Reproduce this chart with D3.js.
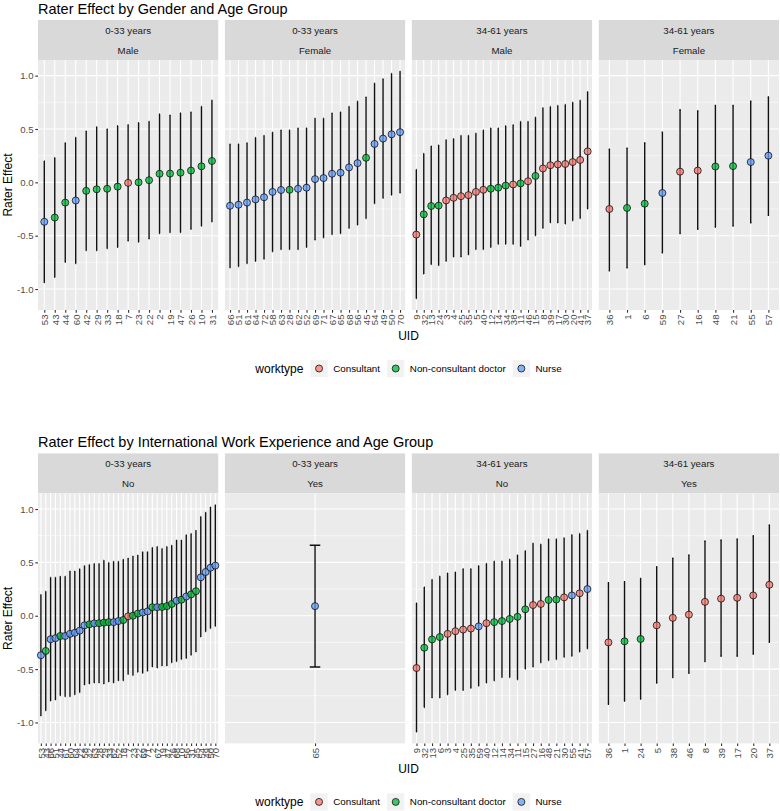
<!DOCTYPE html>
<html>
<head>
<meta charset="utf-8">
<script src="https://cdn.jsdelivr.net/npm/d3@7"></script>
<style>
  body { margin: 0; background: #fff; }
  svg { display: block; font-family: "Liberation Sans", Arial, sans-serif; }
</style>
</head>
<body>
<script>
let W = 780;
let H = 811;

let ageGroups = ["0-33 years", "34-61 years"];
let genders = ["Male", "Female"];
let intlLevels = ["No", "Yes"];
let worktypes = ["Consultant", "Non-consultant doctor", "Nurse"];
let typeColors = ["#F8766D", "#00BA38", "#619CFF"];
let yTicks = [-1, -0.5, 0, 0.5, 1];
let yMinor = [-0.75, -0.25, 0.25, 0.75];

// C = Consultant, D = Non-consultant doctor, N = Nurse
// 0-33 years, male
let youngMaleUid = [53, 43, 44, 60, 42, 29, 33, 18, 7, 23, 22, 2, 19, 47, 26, 10, 31];
let youngMaleType = ["N", "D", "D", "N", "D", "D", "D", "D", "C", "D", "D", "D", "D", "D", "D", "D", "D"];
let youngMaleEst = [-0.37, -0.33, -0.19, -0.17, -0.08, -0.065, -0.06, -0.04, -0.005, 0.0, 0.02, 0.08, 0.082, 0.09, 0.11, 0.15, 0.20];
let youngMaleLo = [-0.94, -0.89, -0.75, -0.76, -0.64, -0.64, -0.62, -0.61, -0.55, -0.56, -0.53, -0.48, -0.47, -0.47, -0.44, -0.41, -0.37];
let youngMaleHi = [0.20, 0.23, 0.37, 0.42, 0.48, 0.52, 0.50, 0.53, 0.54, 0.56, 0.57, 0.64, 0.63, 0.65, 0.66, 0.71, 0.77];

// 0-33 years, female
let youngFemaleUid = [66, 51, 61, 64, 72, 58, 63, 28, 62, 52, 69, 71, 67, 65, 68, 56, 45, 54, 49, 50, 70];
let youngFemaleType = ["N", "N", "N", "N", "N", "N", "N", "D", "N", "N", "N", "N", "N", "N", "N", "N", "D", "N", "N", "N", "N"];
let youngFemaleEst = [-0.22, -0.21, -0.19, -0.16, -0.14, -0.09, -0.072, -0.07, -0.06, -0.05, 0.03, 0.04, 0.08, 0.09, 0.14, 0.18, 0.23, 0.36, 0.41, 0.45, 0.47];
let youngFemaleLo = [-0.80, -0.79, -0.76, -0.74, -0.72, -0.65, -0.63, -0.63, -0.63, -0.61, -0.54, -0.52, -0.49, -0.48, -0.43, -0.40, -0.34, -0.20, -0.15, -0.12, -0.10];
let youngFemaleHi = [0.36, 0.36, 0.37, 0.42, 0.44, 0.47, 0.49, 0.49, 0.51, 0.51, 0.60, 0.60, 0.65, 0.66, 0.71, 0.76, 0.80, 0.93, 0.97, 1.02, 1.04];

// 34-61 years, male
let oldMaleUid = [9, 32, 13, 24, 3, 4, 25, 35, 5, 40, 12, 14, 34, 38, 11, 46, 15, 8, 39, 17, 30, 20, 41, 37];
let oldMaleType = ["C", "D", "D", "D", "C", "C", "C", "C", "C", "C", "D", "D", "D", "C", "D", "C", "D", "C", "C", "C", "C", "C", "C", "C"];
let oldMaleEst = [-0.49, -0.30, -0.222, -0.218, -0.17, -0.145, -0.13, -0.12, -0.09, -0.07, -0.06, -0.05, -0.03, -0.02, -0.01, 0.01, 0.06, 0.13, 0.16, 0.168, 0.172, 0.19, 0.21, 0.29];
let oldMaleLo = [-1.09, -0.86, -0.77, -0.78, -0.74, -0.70, -0.70, -0.68, -0.63, -0.63, -0.61, -0.58, -0.58, -0.58, -0.60, -0.54, -0.50, -0.43, -0.38, -0.38, -0.39, -0.36, -0.34, -0.25];
let oldMaleHi = [0.12, 0.27, 0.34, 0.35, 0.40, 0.41, 0.44, 0.44, 0.46, 0.49, 0.51, 0.51, 0.53, 0.54, 0.57, 0.57, 0.61, 0.70, 0.71, 0.72, 0.73, 0.75, 0.77, 0.85];

// 34-61 years, female
let oldFemaleUid = [36, 1, 6, 59, 27, 16, 48, 21, 55, 57];
let oldFemaleType = ["C", "D", "D", "N", "C", "C", "D", "D", "N", "N"];
let oldFemaleEst = [-0.25, -0.24, -0.20, -0.10, 0.10, 0.11, 0.148, 0.152, 0.19, 0.25];
let oldFemaleLo = [-0.83, -0.80, -0.77, -0.66, -0.48, -0.44, -0.42, -0.41, -0.38, -0.31];
let oldFemaleHi = [0.31, 0.32, 0.37, 0.47, 0.68, 0.67, 0.72, 0.72, 0.76, 0.80];

// raters with international work experience
let intlYoung = [65];
let intlOld = [36, 1, 24, 5, 38, 46, 8, 39, 17, 20, 37];

let rows = [];
let addBlock = (a, g, ids, types, est, lo, hi, intl) => {
  ids.forEach((id, i) => {
    rows.push({
      uid: id, age: a, gender: g,
      intl: intl.includes(id) ? "Yes" : "No",
      type: types[i], est: est[i], lo: lo[i], hi: hi[i]
    });
  });
};
addBlock(ageGroups[0], genders[0], youngMaleUid, youngMaleType, youngMaleEst, youngMaleLo, youngMaleHi, intlYoung);
addBlock(ageGroups[0], genders[1], youngFemaleUid, youngFemaleType, youngFemaleEst, youngFemaleLo, youngFemaleHi, intlYoung);
addBlock(ageGroups[1], genders[0], oldMaleUid, oldMaleType, oldMaleEst, oldMaleLo, oldMaleHi, intlOld);
addBlock(ageGroups[1], genders[1], oldFemaleUid, oldFemaleType, oldFemaleEst, oldFemaleLo, oldFemaleHi, intlOld);

let colorOf = t => typeColors["CDN".indexOf(t)];

let svg = d3.select("body")
  .append("svg")
  .attr("width", W)
  .attr("height", H)
  .attr("viewBox", "0 0 " + W + " " + H);

let pad = { lef: 38, rig: 1 };
let gap = 6.7;
let panelW = (W - pad.lef - pad.rig - 3 * gap) / 4;
let stripH = 20;
let panelH = 250;

let lo = d3.min(rows, d => d.lo);
let hi = d3.max(rows, d => d.hi);
let ext = (hi - lo) * 0.05;
let yScale = d3.scaleLinear().domain([lo - ext, hi + ext]).range([panelH, 0]);

let drawPlot = (top, title, key, levels) => {
  let g = svg.append("g").attr("transform", "translate(0," + top + ")");

  g.append("text")
    .text(title)
    .attr("x", pad.lef)
    .attr("y", 13.5)
    .attr("font-size", "14.5px")
    .attr("fill", "#000");

  let facets = [];
  ageGroups.forEach(a => levels.forEach(l => facets.push([a, l])));

  let panelTop = 20 + stripH * 2;

  facets.forEach((f, i) => {
    let x0 = pad.lef + i * (panelW + gap);
    let fg = g.append("g").attr("transform", "translate(" + x0 + ",0)");

    fg.append("rect")
      .attr("x", 0).attr("y", 20)
      .attr("width", panelW).attr("height", stripH * 2)
      .attr("fill", "#D9D9D9");
    f.forEach((s, j) => {
      fg.append("text")
        .text(s)
        .attr("x", panelW / 2)
        .attr("y", 20.5 + stripH * j + stripH / 2)
        .attr("dy", "0.35em")
        .attr("text-anchor", "middle")
        .attr("font-size", "9.7px")
        .attr("fill", "#1A1A1A");
    });

    let sub = rows.filter(d => d.age === f[0] && d[key] === f[1])
      .sort((a, b) => a.est - b.est);

    let xScale = d3.scalePoint()
      .domain(sub.map(d => d.uid))
      .range([0, panelW])
      .padding(0.6);

    let p = fg.append("g").attr("transform", "translate(0," + panelTop + ")");
    p.append("rect")
      .attr("width", panelW).attr("height", panelH)
      .attr("fill", "#EBEBEB");
    p.selectAll(".minor")
      .data(yMinor)
      .enter()
      .append("line")
      .attr("x1", 0).attr("x2", panelW)
      .attr("y1", d => yScale(d)).attr("y2", d => yScale(d))
      .attr("stroke", "#fff").attr("stroke-width", 0.55);
    p.selectAll(".major")
      .data(yTicks)
      .enter()
      .append("line")
      .attr("x1", 0).attr("x2", panelW)
      .attr("y1", d => yScale(d)).attr("y2", d => yScale(d))
      .attr("stroke", "#fff").attr("stroke-width", 1.1);
    p.selectAll(".vgrid")
      .data(sub)
      .enter()
      .append("line")
      .attr("x1", d => xScale(d.uid)).attr("x2", d => xScale(d.uid))
      .attr("y1", 0).attr("y2", panelH)
      .attr("stroke", "#fff").attr("stroke-width", 1.1);

    let cap = xScale.step() * 0.035;
    let bars = p.selectAll(".bar")
      .data(sub)
      .enter()
      .append("g");
    bars.append("line")
      .attr("x1", d => xScale(d.uid)).attr("x2", d => xScale(d.uid))
      .attr("y1", d => yScale(d.lo)).attr("y2", d => yScale(d.hi))
      .attr("stroke", "#111").attr("stroke-width", 1.4);
    bars.append("path")
      .attr("d", d => {
        let x = xScale(d.uid);
        return "M" + (x - cap) + "," + yScale(d.lo) + "H" + (x + cap) +
          "M" + (x - cap) + "," + yScale(d.hi) + "H" + (x + cap);
      })
      .attr("stroke", "#111").attr("stroke-width", 1.4);

    p.selectAll(".pt")
      .data(sub)
      .enter()
      .append("circle")
      .attr("cx", d => xScale(d.uid))
      .attr("cy", d => yScale(d.est))
      .attr("r", 3.5)
      .attr("fill", d => colorOf(d.type))
      .attr("fill-opacity", 0.75)
      .attr("stroke", "#111")
      .attr("stroke-width", 0.8);

    let xAxis = p.append("g")
      .attr("transform", "translate(0," + panelH + ")")
      .call(d3.axisBottom(xScale).tickSize(2.7).tickSizeOuter(0));
    xAxis.select(".domain").remove();
    xAxis.selectAll("line").attr("stroke", "#333").attr("stroke-width", 1.1);
    xAxis.selectAll("text")
      .attr("transform", "rotate(-90)")
      .attr("x", -4.5)
      .attr("y", 0)
      .attr("dy", "0.35em")
      .attr("text-anchor", "end")
      .attr("font-size", "9.6px")
      .attr("font-family", null)
      .attr("fill", "#4D4D4D");

    if (i === 0) {
      let yAxis = p.append("g")
        .call(d3.axisLeft(yScale).tickValues(yTicks).tickFormat(d => d.toFixed(1)).tickSize(2.7));
      yAxis.select(".domain").remove();
      yAxis.selectAll("line").attr("stroke", "#333").attr("stroke-width", 1.1);
      yAxis.selectAll("text")
        .attr("x", -4.5)
        .attr("font-size", "9.6px")
        .attr("font-family", null)
        .attr("fill", "#4D4D4D");
    }
  });

  let midX = pad.lef + (W - pad.rig - pad.lef) / 2;
  g.append("text")
    .text("UID")
    .attr("x", midX)
    .attr("y", panelTop + panelH + 29.5)
    .attr("text-anchor", "middle")
    .attr("font-size", "12px");
  g.append("text")
    .text("Rater Effect")
    .attr("transform", "rotate(-90)")
    .attr("x", -(panelTop + panelH / 2))
    .attr("y", 12)
    .attr("text-anchor", "middle")
    .attr("font-size", "12px");

  // legend
  let legY = panelTop + panelH + 58.5;
  let leg = g.append("g");
  let lt = leg.append("text")
    .text("worktype")
    .attr("x", 0).attr("y", legY)
    .attr("dy", "0.35em")
    .attr("font-size", "12px");
  let cx = lt.node().getComputedTextLength() + 7;
  worktypes.forEach((w, i) => {
    leg.append("rect")
      .attr("x", cx).attr("y", legY - 8.65)
      .attr("width", 17.3).attr("height", 17.3)
      .attr("fill", "#F2F2F2");
    leg.append("circle")
      .attr("cx", cx + 8.65).attr("cy", legY)
      .attr("r", 3.5)
      .attr("fill", typeColors[i])
      .attr("fill-opacity", 0.75)
      .attr("stroke", "#111")
      .attr("stroke-width", 0.8);
    let t = leg.append("text")
      .text(w)
      .attr("x", cx + 17.3 + 5.5).attr("y", legY)
      .attr("dy", "0.35em")
      .attr("font-size", "9.8px")
      .attr("fill", "#000");
    cx += 17.3 + 5.5 + t.node().getComputedTextLength() + 7;
  });
  let legW = cx - 7;
  leg.attr("transform", "translate(" + (midX - legW / 2) + ",0)");
};

drawPlot(0, "Rater Effect by Gender and Age Group", "gender", genders);
drawPlot(433.4, "Rater Effect by International Work Experience and Age Group", "intl", intlLevels);
</script>
</body>
</html>
